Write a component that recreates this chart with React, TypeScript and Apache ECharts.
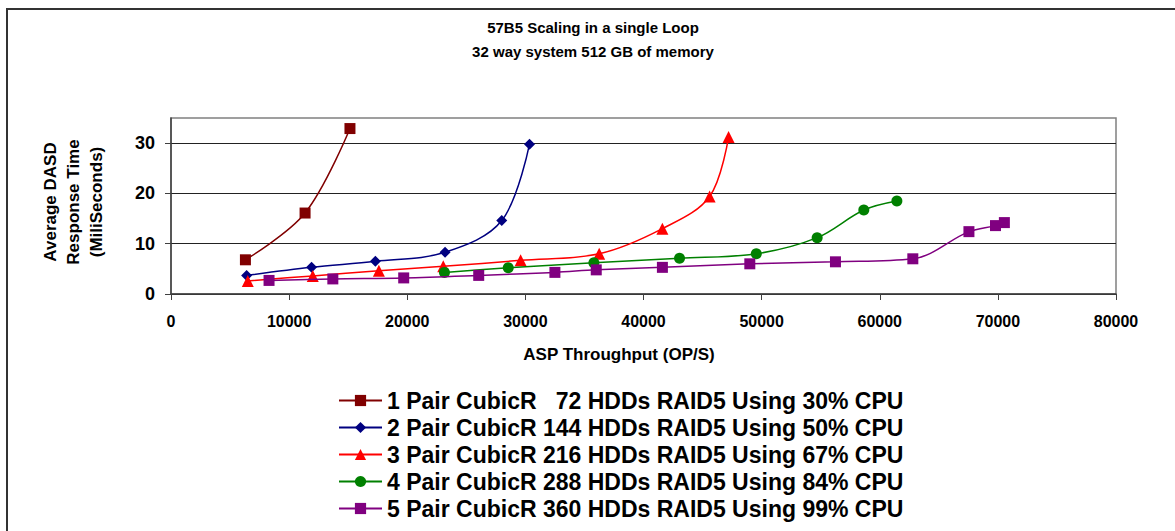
import React, { useEffect, useRef } from "react";
import * as echarts from "echarts";

const titleLines = ["57B5 Scaling in a single Loop", "32 way system 512 GB of memory"];
const xAxisTitle = "ASP Throughput (OP/S)";
const yAxisTitle = ["Average DASD", "Response Time", "(MiliSeconds)"];
const xMin = 0;
const xMax = 80000;
const xInterval = 10000;
const yMin = 0;
const yMax = 35;
const yInterval = 10;
const yTickValues = [0, 10, 20, 30];

const seriesNames = [
  "1 Pair CubicR \u00a0\u00a072 HDDs RAID5 Using 30% CPU",
  "2 Pair CubicR 144 HDDs RAID5 Using 50% CPU",
  "3 Pair CubicR 216 HDDs RAID5 Using 67% CPU",
  "4 Pair CubicR 288 HDDs RAID5 Using 84% CPU",
  "5 Pair CubicR 360 HDDs RAID5 Using 99% CPU",
];
const seriesColors = ["#800000", "#000080", "#FF0000", "#008000", "#800080"];
const seriesSymbols = ["rect", "diamond", "triangle", "circle", "rect"];

const pair1: [number, number][] = [
  [6300, 6.8], [11350, 16.1], [15150, 32.9],
];
const pair2: [number, number][] = [
  [6400, 3.7], [11900, 5.3], [17300, 6.5], [23200, 8.3], [28000, 14.6], [30350, 29.8],
];
const pair3: [number, number][] = [
  [6500, 2.6], [12000, 3.6], [17600, 4.6], [23050, 5.5], [29600, 6.7], [36250, 8.0],
  [41600, 13.0], [45600, 19.4], [47200, 31.2],
];
const pair4: [number, number][] = [
  [23150, 4.3], [28550, 5.2], [35800, 6.2], [43050, 7.1], [49550, 8.0], [54700, 11.2],
  [58650, 16.7], [61450, 18.5],
];
const pair5: [number, number][] = [
  [8300, 2.7], [13700, 3.0], [19700, 3.2], [26050, 3.7], [32500, 4.3], [36000, 4.8],
  [41600, 5.3], [49000, 6.0], [56250, 6.4], [62800, 7.0], [67550, 12.4], [69800, 13.6],
  [70550, 14.2],
];
const seriesData = [pair1, pair2, pair3, pair4, pair5];

const FONT = "'Liberation Sans', Arial, sans-serif";

export default function App() {
  const ref = useRef<HTMLDivElement>(null);
  useEffect(() => {
    if (!ref.current) return;
    const chart = echarts.init(ref.current, undefined, { renderer: "svg" });
    const symbolSizes = [11, 11, 12, 11, 11];
    chart.setOption({
      animation: false,
      backgroundColor: "#ffffff",
      textStyle: { fontFamily: FONT },
      title: {
        text: titleLines.join("\n"),
        left: 588,
        textAlign: "center",
        top: 10,
        textStyle: {
          fontFamily: FONT,
          fontSize: 15,
          fontWeight: "bold",
          color: "#000",
          lineHeight: 24,
        },
      },
      graphic: [
        {
          type: "rect",
          shape: { x: 7, y: 9, width: 1200, height: 600 },
          style: { fill: "none", stroke: "#333", lineWidth: 2 },
          z: -10,
          silent: true,
        },
        {
          type: "text",
          x: 73,
          y: 202,
          rotation: Math.PI / 2,
          style: {
            text: yAxisTitle.join("\n"),
            fontFamily: FONT,
            fontSize: 17,
            fontWeight: "bold",
            fill: "#000",
            align: "center",
            verticalAlign: "middle",
            lineHeight: 23,
          },
        },
        {
          type: "text",
          x: 619,
          y: 354,
          style: {
            text: xAxisTitle,
            fontFamily: FONT,
            fontSize: 17,
            fontWeight: "bold",
            fill: "#000",
            align: "center",
            verticalAlign: "middle",
          },
        },
      ],
      legend: {
        orient: "vertical",
        left: 338,
        top: 389,
        padding: 0,
        itemWidth: 43,
        itemHeight: 14,
        itemGap: 4,
        textStyle: {
          fontFamily: FONT,
          fontSize: 23,
          fontWeight: "bold",
          color: "#000",
          lineHeight: 22,
        },
        data: seriesNames,
      },
      grid: {
        left: 171,
        top: 118,
        width: 945,
        height: 176,
        show: true,
        borderColor: "#808080",
        borderWidth: 1.5,
        backgroundColor: "#fff",
      },
      xAxis: {
        type: "value",
        min: xMin,
        max: xMax,
        interval: xInterval,
        axisLine: { show: true, lineStyle: { color: "#404040", width: 1.5 } },
        axisTick: { show: true, inside: false, length: 6, lineStyle: { color: "#404040" } },
        axisLabel: {
          fontFamily: FONT,
          fontSize: 16,
          fontWeight: "bold",
          color: "#000",
          margin: 19,
          formatter: (v: number) => String(v),
        },
        splitLine: { show: false },
      },
      yAxis: {
        type: "value",
        min: yMin,
        max: yMax,
        interval: yInterval,
        axisLine: { show: true, lineStyle: { color: "#404040", width: 1.5 } },
        axisTick: {
          show: true,
          length: 6,
          customValues: yTickValues,
          lineStyle: { color: "#404040" },
        },
        axisLabel: {
          customValues: yTickValues,
          fontFamily: FONT,
          fontSize: 18,
          fontWeight: "bold",
          color: "#000",
          margin: 16,
          formatter: (v: number) => String(v),
        },
        splitLine: {
          show: true,
          lineStyle: { color: "#222", width: 1 },
        },
      },
      series: seriesData.map((d, i) => ({
        type: "line",
        name: seriesNames[i],
        data: d,
        smooth: 0.35,
        symbol: seriesSymbols[i],
        symbolSize: symbolSizes[i],
        color: seriesColors[i],
        lineStyle: { color: seriesColors[i], width: 1.5 },
        itemStyle: { color: seriesColors[i] },
        z: 2 + i,
      })),
    });
    return () => chart.dispose();
  }, []);
  return (
    <div
      ref={ref}
      style={{ position: "fixed", left: 0, top: 0, width: 1175, height: 531, background: "#fff" }}
    />
  );
}
